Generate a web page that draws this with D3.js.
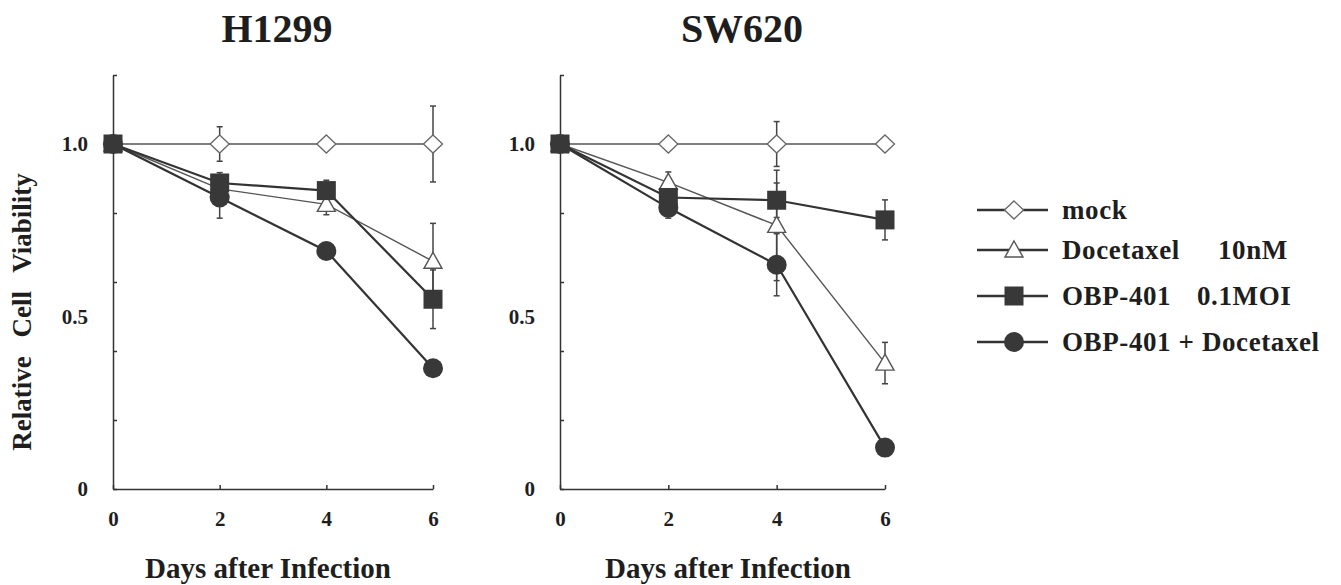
<!DOCTYPE html>
<html>
<head>
<meta charset="utf-8">
<script src="https://cdn.jsdelivr.net/npm/d3@7"></script>
<style>
  html, body { margin: 0; padding: 0; background: #fff; }
  svg { display: block; }
  text { font-family: "Liberation Serif", "Times New Roman", serif; font-weight: bold; fill: #1e1e1e; }
</style>
</head>
<body>
<svg id="chart" width="1341" height="585"></svg>
<script>
// ---- data ----
const days = [0, 2, 4, 6];
const xTickLabels = ["0", "2", "4", "6"];
const yTickValues = [0, 0.5, 1.0];
const yTickLabels = ["0", "0.5", "1.0"];
const yMinorTicks = [0, 0.2, 0.4, 0.6, 0.8, 1.0, 1.2];
const panelTitles = ["H1299", "SW620"];
const seriesNames = ["mock", "Docetaxel", "OBP-401", "OBP-401 + Docetaxel"];
const seriesSuffix = ["", "10nM", "0.1MOI", ""];

const h1299Mock      = [1.00, 1.00, 1.00, 1.00];
const h1299MockErr   = [0.00, 0.05, 0.01, 0.11];
const h1299Doc       = [1.00, 0.87, 0.825, 0.66];
const h1299DocErr    = [0.00, 0.04, 0.03, 0.11];
const h1299Obp       = [1.00, 0.887, 0.865, 0.55];
const h1299ObpErr    = [0.00, 0.03, 0.03, 0.085];
const h1299Combo     = [1.00, 0.845, 0.69, 0.35];
const h1299ComboErr  = [0.00, 0.06, 0.01, 0.01];

const sw620Mock      = [1.00, 1.00, 1.00, 1.00];
const sw620MockErr   = [0.00, 0.01, 0.065, 0.01];
const sw620Doc       = [1.00, 0.889, 0.764, 0.365];
const sw620DocErr    = [0.00, 0.03, 0.16, 0.06];
const sw620Obp       = [1.00, 0.845, 0.837, 0.78];
const sw620ObpErr    = [0.00, 0.05, 0.05, 0.058];
const sw620Combo     = [1.00, 0.815, 0.65, 0.12];
const sw620ComboErr  = [0.00, 0.03, 0.09, 0.01];

const panels = [
  { title: panelTitles[0], values: [h1299Mock, h1299Doc, h1299Obp, h1299Combo], errs: [h1299MockErr, h1299DocErr, h1299ObpErr, h1299ComboErr] },
  { title: panelTitles[1], values: [sw620Mock, sw620Doc, sw620Obp, sw620Combo], errs: [sw620MockErr, sw620DocErr, sw620ObpErr, sw620ComboErr] }
];

// ---- layout & styles ----
const panelLayout = [
  { x0: 113, x1: 433, titleX: 277, xTitleX: 268 },
  { x0: 560, x1: 885, titleX: 742, xTitleX: 728 }
];
const yTop = 75, yBottom = 489;
const seriesStyle = [
  { shape: "diamond",  fill: "#fff",    stroke: "#555", lw: 1.4 },
  { shape: "triangle", fill: "#fff",    stroke: "#555", lw: 1.4 },
  { shape: "square",   fill: "#383838", stroke: "#333", lw: 2.2 },
  { shape: "circle",   fill: "#383838", stroke: "#333", lw: 2.2 }
];
const drawOrder = [0, 1, 3, 2];

const svg = d3.select("#chart");

function drawMarker(g, shape, cx, cy, st) {
  if (shape === "square") {
    g.append("rect").attr("x", cx - 9.5).attr("y", cy - 9.5).attr("width", 19).attr("height", 19)
      .attr("fill", st.fill).attr("stroke", "none");
  } else if (shape === "circle") {
    g.append("circle").attr("cx", cx).attr("cy", cy).attr("r", 10).attr("fill", st.fill);
  } else if (shape === "diamond") {
    g.append("path").attr("d", `M${cx},${cy-9}L${cx+9.5},${cy}L${cx},${cy+9}L${cx-9.5},${cy}Z`)
      .attr("fill", "#fff").attr("stroke", "#666").attr("stroke-width", 1.3);
  } else if (shape === "triangle") {
    g.append("path").attr("d", `M${cx},${cy-9}L${cx+9},${cy+7}L${cx-9},${cy+7}Z`)
      .attr("fill", "#fff").attr("stroke", "#555").attr("stroke-width", 1.4);
  }
}

panels.forEach((p, pi) => {
  const L = panelLayout[pi];
  const x = d3.scaleLinear().domain([0, 6]).range([L.x0, L.x1]);
  const y = d3.scaleLinear().domain([0, 1.2]).range([yBottom, yTop]);
  const g = svg.append("g");

  // title
  g.append("text").attr("x", L.titleX).attr("y", 42).attr("text-anchor", "middle")
    .style("font-size", "40px").text(p.title);

  // y axis: minor inward ticks
  const yAxisMinor = d3.axisLeft(y).tickValues(yMinorTicks).tickSizeInner(-4).tickSizeOuter(0).tickFormat("");
  const ya = g.append("g").attr("transform", `translate(${L.x0},0)`).call(yAxisMinor);
  ya.selectAll("path,line").attr("stroke", "#333").attr("stroke-width", 1.5);
  // y labels
  const yAxisLab = d3.axisLeft(y).tickValues(yTickValues).tickSize(0).tickPadding(25)
    .tickFormat((d, i) => yTickLabels[i]);
  const yl = g.append("g").attr("transform", `translate(${L.x0},0)`).call(yAxisLab);
  yl.select("path").remove();
  yl.selectAll("text").style("font-size", "21px").style("font-family", "Liberation Serif").style("font-weight", "bold").attr("fill", "#222");

  // x axis
  const xAxis = d3.axisBottom(x).tickValues(days).tickSizeInner(-4).tickSizeOuter(0).tickPadding(22)
    .tickFormat((d, i) => xTickLabels[i]);
  const xa = g.append("g").attr("transform", `translate(0,${yBottom})`).call(xAxis);
  xa.selectAll("path,line").attr("stroke", "#333").attr("stroke-width", 1.5);
  xa.selectAll("text").style("font-size", "21px").style("font-family", "Liberation Serif").style("font-weight", "bold").attr("fill", "#222");

  // x title
  g.append("text").attr("x", L.xTitleX).attr("y", 578).attr("text-anchor", "middle")
    .style("font-size", "29px").text("Days after Infection");

  // series lines
  const line = d3.line().x((d, i) => x(days[i])).y(d => y(d));
  drawOrder.forEach(si => {
    const st = seriesStyle[si];
    g.append("path").datum(p.values[si]).attr("d", line)
      .attr("fill", "none").attr("stroke", st.stroke).attr("stroke-width", st.lw);
  });
  // error bars
  drawOrder.forEach(si => {
    p.values[si].forEach((v, i) => {
      const e = p.errs[si][i];
      if (e <= 0) return;
      const cx = x(days[i]);
      const eg = g.append("g").attr("stroke", "#444").attr("stroke-width", 1.5);
      eg.append("line").attr("x1", cx).attr("x2", cx).attr("y1", y(v - e)).attr("y2", y(v + e));
      eg.append("line").attr("x1", cx - 3).attr("x2", cx + 3).attr("y1", y(v - e)).attr("y2", y(v - e));
      eg.append("line").attr("x1", cx - 3).attr("x2", cx + 3).attr("y1", y(v + e)).attr("y2", y(v + e));
    });
  });
  // markers
  drawOrder.forEach(si => {
    const st = seriesStyle[si];
    p.values[si].forEach((v, i) => drawMarker(g, st.shape, x(days[i]), y(v), st));
  });
});

// y axis title
svg.append("text").attr("transform", "translate(31,312) rotate(-90)").attr("text-anchor", "middle")
  .style("font-size", "27px").style("word-spacing", "12px").text("Relative Cell Viability");

// legend
const legendRows = [210, 250, 296, 342];
const lg = svg.append("g");
seriesNames.forEach((name, i) => {
  const st = seriesStyle[i];
  const ly = legendRows[i];
  lg.append("line").attr("x1", 977).attr("x2", 1048).attr("y1", ly).attr("y2", ly)
    .attr("stroke", "#333").attr("stroke-width", 2.5);
  drawMarker(lg, st.shape, 1014, ly, st);
  const t = lg.append("text").attr("x", 1062).attr("y", ly + 9).style("font-size", "27px").style("letter-spacing", "0.6px");
  t.append("tspan").text(name);
  if (seriesSuffix[i]) {
    t.append("tspan").attr("x", i === 1 ? 1218 : 1197).text(seriesSuffix[i]);
  }
});
</script>
</body>
</html>
